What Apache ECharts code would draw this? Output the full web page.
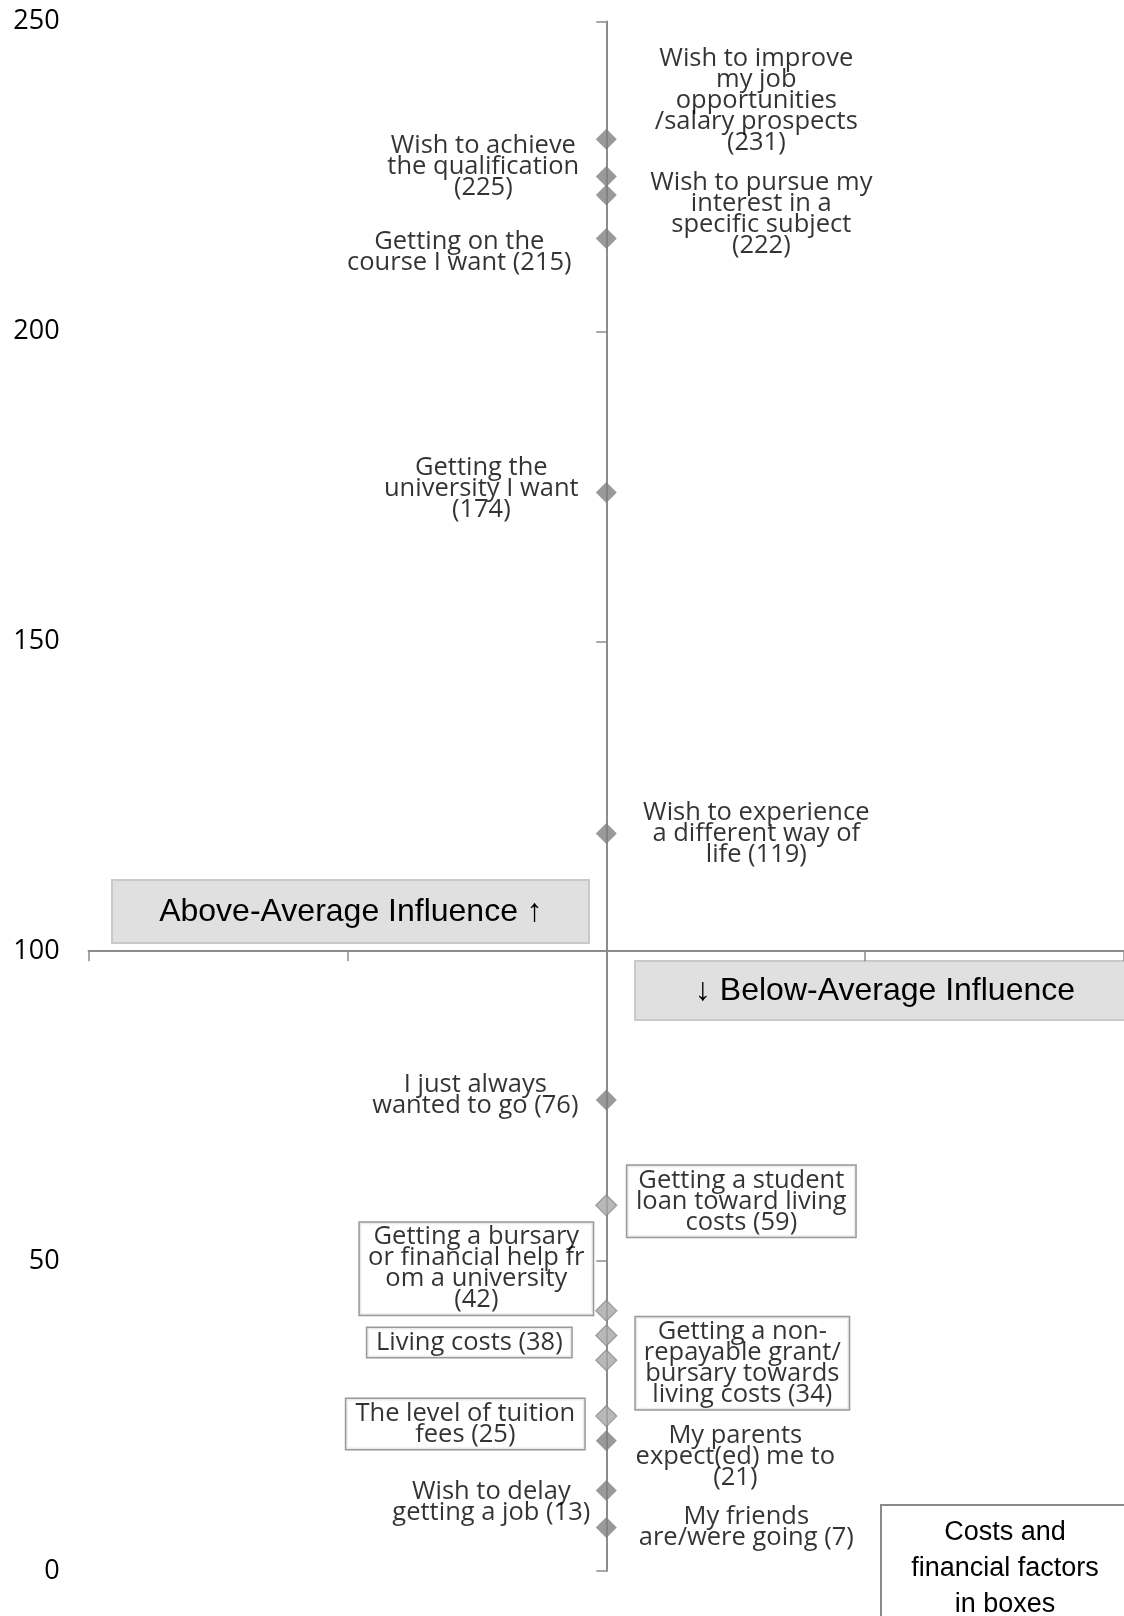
<!DOCTYPE html>
<html>
<head>
<meta charset="utf-8">
<script src="https://cdn.jsdelivr.net/npm/echarts@6/dist/echarts.min.js"></script>
<style>
  html, body { margin: 0; padding: 0; background: #fff; }
  #chart { width: 1124px; height: 1616px; }
</style>
</head>
<body>
<div id="chart"></div>
<script>
// factors influencing the decision to go to university (score)
const factorLabels = [
  'Wish to improve\nmy job\nopportunities\n/salary prospects\n(231)',
  'Wish to achieve\nthe qualification\n(225)',
  'Wish to pursue my\ninterest in a\nspecific subject\n(222)',
  'Getting on the\ncourse I want (215)',
  'Getting the\nuniversity I want\n(174)',
  'Wish to experience\na different way of\nlife (119)',
  'I just always\nwanted to go (76)',
  'Getting a student\nloan toward living\ncosts (59)',
  'Getting a bursary\nor financial help fr\nom a university\n(42)',
  'Living costs (38)',
  'Getting a non-\nrepayable grant/\nbursary towards\nliving costs (34)',
  'The level of tuition\nfees (25)',
  'My parents\nexpect(ed) me to\n(21)',
  'Wish to delay\ngetting a job (13)',
  'My friends\nare/were going (7)'
]
const factorScores = [231, 225, 222, 215, 174, 119, 76, 59, 42, 38, 34, 25, 21, 13, 7]
const isFinancial = [false, false, false, false, false, false, false, true, true, true, true, true, false, false, false]
const averageScore = 100

// label placement (pixel offset from the marker), box width for boxed labels
const labelOffsets = [
  [150, -39], [-123, -10], [155, 19], [-147, 14], [-125, -4], [150, 0], [-131, -5],
  [135, -4], [-130, -42], [-137, 7], [136, 3], [-141, 8],
  [129, 16], [-115, 12], [140, 0]
]
const boxWidths = [0, 0, 0, 0, 0, 0, 0, 230, 235, 206, 215, 240, 0, 0, 0]

const W = 1124, H = 1616
const gridTop = 21.5, gridBottom = 45, gridLeft = 88.6
const yMin = 0, yMax = 250
const axisGrey = '#8c8c8c'
const labelFont = '"Open Sans", sans-serif'

const chart = echarts.init(document.getElementById('chart'), null, { renderer: 'canvas' })

const plotH = H - gridTop - gridBottom
const xAxisOffset = -plotH * (averageScore - yMin) / (yMax - yMin)

const seriesData = factorScores.map((score, i) => {
  const fin = isFinancial[i]
  const label = {
    show: true,
    formatter: factorLabels[i],
    position: 'inside',
    offset: labelOffsets[i],
    align: 'center',
    verticalAlign: 'middle',
    color: '#000',
    fontFamily: labelFont,
    fontSize: 25.5,
    lineHeight: 21
  }
  if (fin) {
    label.width = boxWidths[i] - 10
    label.borderColor = '#7f7f7f'
    label.borderWidth = 1.5
    label.backgroundColor = '#fff'
    label.padding = [4, 4]
  }
  return {
    value: [0, score],
    itemStyle: fin
      ? { color: '#a6a6a6', borderColor: '#8a8a8a', borderWidth: 1.2 }
      : { color: '#7f7f7f' },
    label: label
  }
})

const option = {
  animation: false,
  backgroundColor: '#fff',
  grid: { left: gridLeft, right: 0, top: gridTop, bottom: gridBottom, containLabel: false },
  xAxis: {
    type: 'value',
    min: -2,
    max: 2,
    interval: 1,
    position: 'bottom',
    offset: xAxisOffset,
    axisLine: { show: true, onZero: false, lineStyle: { color: axisGrey, width: 2 } },
    axisTick: { show: true, length: 10, lineStyle: { color: axisGrey, width: 1.5 } },
    axisLabel: { show: false },
    splitLine: { show: false }
  },
  yAxis: [
    {
      type: 'value',
      min: yMin,
      max: yMax,
      interval: 50,
      axisLine: { show: true, onZero: true, lineStyle: { color: axisGrey, width: 2 } },
      axisTick: { show: true, length: 10, lineStyle: { color: axisGrey, width: 1.5 } },
      axisLabel: { show: false },
      splitLine: { show: false }
    },
    {
      type: 'value',
      min: yMin,
      max: yMax,
      interval: 50,
      position: 'left',
      axisLine: { show: false, onZero: false },
      axisTick: { show: false },
      axisLabel: { show: true, margin: 29, color: '#000', fontFamily: labelFont, fontSize: 27 },
      splitLine: { show: false }
    }
  ],
  series: [
    {
      type: 'scatter',
      yAxisIndex: 0,
      symbol: 'diamond',
      symbolSize: 21,
      data: seriesData,
      z: 3
    }
  ],
  graphic: [
    {
      type: 'group',
      left: 111,
      top: 879,
      children: [
        { type: 'rect', shape: { x: 0, y: 0, width: 477, height: 63 },
          style: { fill: '#e0e0e0', stroke: '#c9c9c9', lineWidth: 2 } },
        { type: 'text', x: 239, y: 32,
          style: { text: 'Above-Average Influence \u2191', fill: '#000', font: '32px "Liberation Sans", Arial, sans-serif',
            textAlign: 'center', textVerticalAlign: 'middle' } }
      ]
    },
    {
      type: 'group',
      left: 634,
      top: 960,
      children: [
        { type: 'rect', shape: { x: 0, y: 0, width: 500, height: 59 },
          style: { fill: '#e0e0e0', stroke: '#c9c9c9', lineWidth: 2 } },
        { type: 'text', x: 250, y: 30,
          style: { text: '\u2193 Below-Average Influence', fill: '#000', font: '32px "Liberation Sans", Arial, sans-serif',
            textAlign: 'center', textVerticalAlign: 'middle' } }
      ]
    },
    {
      type: 'group',
      left: 880,
      top: 1504,
      children: [
        { type: 'rect', shape: { x: 0, y: 0, width: 250, height: 150 },
          style: { fill: '#fff', stroke: '#8a8a8a', lineWidth: 2 } },
        { type: 'text', x: 124, y: 10,
          style: { text: 'Costs and\nfinancial factors\nin boxes', fill: '#000',
            font: '27px "Liberation Sans", Arial, sans-serif', lineHeight: 36,
            textAlign: 'center', textVerticalAlign: 'top' } }
      ]
    }
  ]
}

chart.setOption(option)
</script>
</body>
</html>
